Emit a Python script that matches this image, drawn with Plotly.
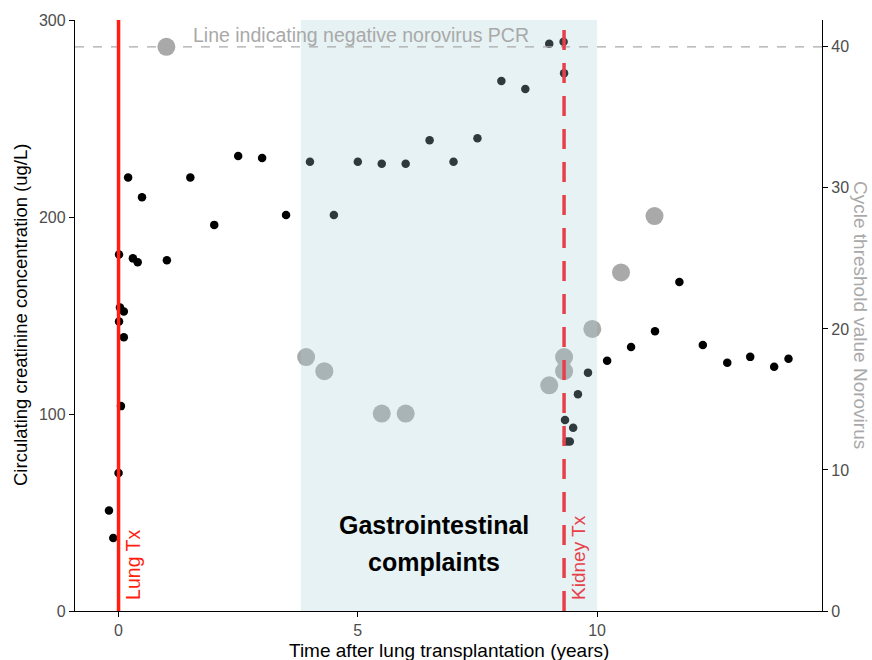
import plotly.graph_objects as go

# Creatinine (left axis)
creat_x = [-0.2, -0.11, 0.0, 0.05, 0.11, 0.01, 0.03, 0.11, 0.01, 0.2, 0.49, 0.3, 0.4, 1.01, 1.5, 2.0, 2.5, 3.0, 3.5,
           4.0, 4.5, 5.0, 5.5, 6.0, 6.5, 7.0, 7.5, 8.0, 8.5, 9.0, 9.3, 9.31,
           9.33, 9.5, 9.37, 9.43, 9.6, 9.81, 10.21, 10.71, 11.21, 11.72, 12.21, 12.72, 13.2, 13.7, 14.0]
creat_y = [51, 37, 70, 104, 139, 147, 154, 152, 181, 220, 210, 179, 177, 178, 220, 196, 231, 230, 201,
           228, 201, 228, 227, 227, 239, 228, 240, 269, 265, 288, 289, 273,
           97, 93, 86, 86, 110, 121, 127, 134, 142, 167, 135, 126, 129, 124, 128]

# Norovirus cycle threshold (right axis)
ct_x = [1.0, 3.92, 4.3, 5.5, 6.0, 9.0, 9.31, 9.31, 9.9, 10.5, 11.2]
ct_y = [40, 18.0, 17.0, 14.0, 14.0, 16.0, 18.0, 17.0, 20.0, 24.0, 28.0]

lung_tx = 0.0
kidney_tx = 9.31
gi_start, gi_end = 3.81, 10.0
neg_ct = 40

x_range = [-0.91, 14.7]
y_range = [0, 300]
y2_range = [0, 41.9]

font_family = "Arial, Liberation Sans, sans-serif"

# plot area in page pixels: x 75..822, y 20..611 (body margin removed below)
W, H = 872, 660
L, T = 75, 20
R = W - 822
B = H - 611

def py(p):
    return (611 - p) / 591

def px(p):
    return (p - 75) / 747

fig = go.Figure()
fig.add_trace(go.Scatter(x=ct_x, y=ct_y, mode="markers", yaxis="y2",
                         marker=dict(size=18, color="#a9a9a9"), showlegend=False))
fig.add_trace(go.Scatter(x=creat_x, y=creat_y, mode="markers",
                         marker=dict(size=8.5, color="black"), showlegend=False))

# shaded GI period (drawn above with alpha, like ggplot annotate)
fig.add_shape(type="rect", xref="x", yref="y", x0=gi_start, x1=gi_end, y0=0, y1=300,
              fillcolor="rgba(164,210,212,0.28)", line=dict(width=0), layer="above")
# negative PCR line
fig.add_shape(type="line", xref="paper", yref="y2", x0=0, x1=1, y0=neg_ct, y1=neg_ct,
              line=dict(color="#a9a9a9", width=1.3, dash="dash"), layer="above")
# transplant lines
fig.add_shape(type="line", xref="x", yref="y", x0=lung_tx, x1=lung_tx, y0=0, y1=300,
              line=dict(color="#ff1e10", width=3.5), layer="above")
fig.add_shape(type="line", xref="x", yref="y", x0=kidney_tx, x1=kidney_tx, y0=0, y1=300,
              line=dict(color="#e8404a", width=3.5, dash="20px,13px"), layer="above")

def note(x, y, text, size, color, xref="x", xanchor="center", angle=0, bold=False):
    fig.add_annotation(x=x, y=y, xref=xref, yref="paper", text=f"<b>{text}</b>" if bold else text,
                       showarrow=False, xanchor=xanchor, yanchor="middle", textangle=angle,
                       font=dict(size=size, color=color, family=font_family))

note(1.52, py(35), "Line indicating negative norovirus PCR", 19.5, "#a9a9a9", xanchor="left")
note(6.59, py(525), "Gastrointestinal", 25, "black", bold=True)
note(6.59, py(562), "complaints", 25, "black", bold=True)
note(0.30, py(565), "Lung Tx", 19.5, "#ff1e10", angle=-90)
note(9.6, py(557), "Kidney Tx", 19, "#e8404a", angle=-90)

# axis titles
note(px(20), py(315), "Circulating creatinine concentration (ug/L)", 18.5, "black", xref="paper", angle=-90)
note(px(861), py(315), "Cycle threshold value Norovirus", 19, "#a9a9a9", xref="paper", angle=90)
note(0.5, py(650), "Time after lung transplantation (years)", 19, "black", xref="paper")

axis_common = dict(showgrid=False, zeroline=False, showline=True, linecolor="black", linewidth=1.3,
                   ticks="outside", ticklen=5, tickcolor="black", tickwidth=1.1,
                   tickfont=dict(size=16, color="#4d4d4d", family=font_family))

fig.update_layout(
    width=W, height=H,
    margin=dict(l=L, r=R, t=T, b=B, autoexpand=False),
    plot_bgcolor="white", paper_bgcolor="white",
    xaxis=dict(range=x_range, tickvals=[0, 5, 10], **axis_common),
    yaxis=dict(range=y_range, tickvals=[0, 100, 200, 300], **axis_common),
    yaxis2=dict(range=y2_range, tickvals=[0, 10, 20, 30, 40], overlaying="y", side="right", **axis_common),
    font=dict(family=font_family),
)

fig.write_html("out.html", config={"displayModeBar": False},
               post_script="document.body.style.margin='0';document.body.style.overflow='hidden';")
